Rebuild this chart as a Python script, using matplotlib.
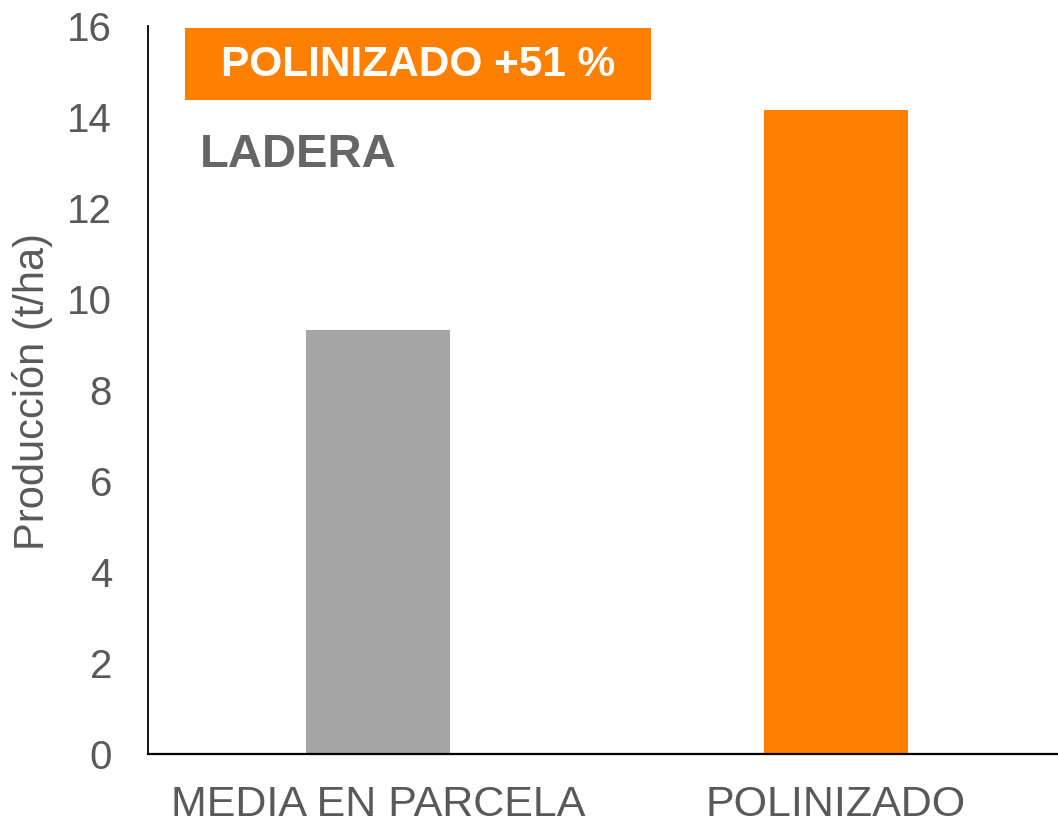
import matplotlib
matplotlib.use("Agg")
import matplotlib.pyplot as plt
from matplotlib.patches import Rectangle

categories = ["MEDIA EN PARCELA", "POLINIZADO"]
values = [9.32, 14.15]
bar_colors = ["#A5A5A5", "#FF8000"]
yticks = [0, 2, 4, 6, 8, 10, 12, 14, 16]
ylabel = "Producción (t/ha)"
badge_text = "POLINIZADO +51 %"
panel_text = "LADERA"

plt.rcParams['font.family'] = ['Liberation Sans', 'DejaVu Sans']

W, H = 1058, 827
fig = plt.figure(figsize=(W / 100, H / 100), dpi=100)
ax = fig.add_axes([148 / W, 1 - 754 / H, 910 / W, (754 - 26) / H])

x = list(range(len(categories)))
ax.bar(x, values, width=0.314, color=bar_colors, zorder=2)
ax.set_xlim(-0.502, 1.485)
ax.set_ylim(0, 16)
ax.set_yticks(yticks)
ax.set_yticklabels([str(t) for t in yticks])
ax.set_xticks(x)
ax.set_xticklabels(categories)

for s in ["top", "right"]:
    ax.spines[s].set_visible(False)
ax.spines["left"].set_color("#000000")
ax.spines["bottom"].set_color("#000000")
ax.spines["left"].set_linewidth(1.3)
ax.spines["bottom"].set_linewidth(1.6)

ax.tick_params(axis="y", length=0, pad=26, labelsize=29, labelcolor="#595959")
ax.tick_params(axis="x", length=0, pad=22, labelsize=31, labelcolor="#595959")

fig.text(33 / W, 1 - 391 / H, ylabel, rotation=90, ha="center", va="center",
         fontsize=30, color="#595959")

fig.patches.append(Rectangle((185 / W, 1 - 100 / H), (651 - 185) / W, (100 - 28) / H,
                             transform=fig.transFigure, facecolor="#FF8000",
                             edgecolor="none", zorder=3))
fig.text(418 / W, 1 - 65 / H, badge_text, ha="center", va="center",
         fontsize=30.5, fontweight="bold", color="white", zorder=4)
fig.text(200 / W, 1 - 155 / H, panel_text, ha="left", va="center",
         fontsize=34, fontweight="bold", color="#666666")

fig.savefig("out.png", dpi=100)
